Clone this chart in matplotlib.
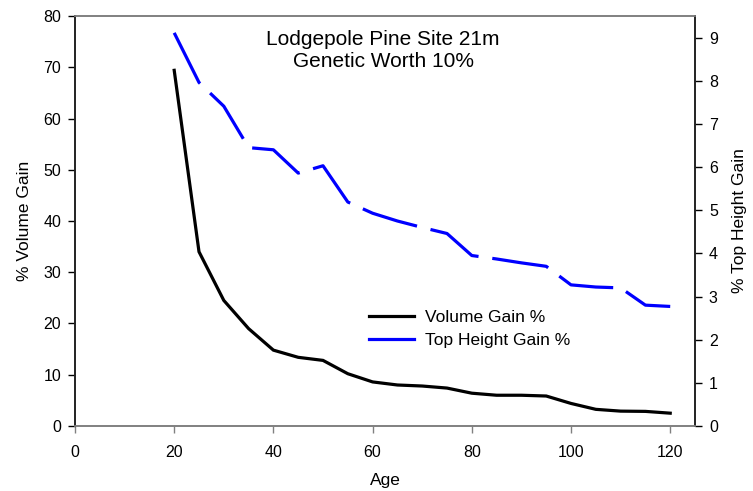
import matplotlib
matplotlib.use("Agg")
import matplotlib.pyplot as plt
from matplotlib.lines import Line2D

plt.rcParams["font.family"] = ["Liberation Sans", "DejaVu Sans"]
plt.rcParams["lines.scale_dashes"] = False

age = [20, 25, 30, 35, 40, 45, 50, 55, 60, 65, 70, 75, 80, 85, 90, 95, 100, 105, 110, 115, 120]
volume_gain = [69.4, 34.0, 24.5, 19.0, 14.8, 13.4, 12.8, 10.2, 8.6, 8.0, 7.8, 7.4, 6.4, 6.0, 6.0, 5.85,
               4.4, 3.25, 2.9, 2.85, 2.5]
height_gain = [9.11, 7.96, 7.41, 6.45, 6.4, 5.86, 6.03, 5.19, 4.93, 4.75, 4.6, 4.46, 3.95, 3.87, 3.78, 3.7,
               3.27, 3.22, 3.2, 2.8, 2.77]

fig = plt.figure(figsize=(7.53, 4.91), dpi=100)
ax = fig.add_axes([0.0996, 0.1324, 0.923 - 0.0996, 0.9674 - 0.1324])
ax2 = ax.twinx()

ax.plot(age, volume_gain, "-", color="black", lw=2.3, solid_joinstyle="miter")
ax2.plot(age, height_gain, color="blue", lw=2.3, linestyle=(0, (41, 10)))

ax.set_xlim(0, 125)
ax.set_ylim(0, 80)
ax2.set_ylim(0, 9.5)
ax.set_xticks(range(0, 121, 20))
ax.set_yticks(range(0, 81, 10))
ax2.set_yticks(range(0, 10))

for a in (ax, ax2):
    a.tick_params(labelsize=11.5, length=5, width=1, direction="out", pad=5)
    for side in ("top", "bottom"):
        a.spines[side].set_color("#808080")
    for side in ("left", "right"):
        a.spines[side].set_color("#222222")
    for s in a.spines.values():
        s.set_linewidth(1.2)
ax.tick_params(axis="x", colors="#808080", labelcolor="black", pad=9)

ax.set_xlabel("Age", fontsize=12.5, labelpad=9)
ax.set_ylabel("% Volume Gain", fontsize=12.5, labelpad=8)
ax2.set_ylabel("% Top Height Gain", fontsize=12.5, labelpad=10)

ax.text(0.497, 0.965, "Lodgepole Pine Site 21m\nGenetic Worth 10%", transform=ax.transAxes,
        ha="center", va="top", fontsize=15, linespacing=1.2)

handles = [Line2D([], [], color="black", lw=2.3),
           Line2D([], [], color="blue", lw=2.3)]
ax.legend(handles, ["Volume Gain %", "Top Height Gain %"], loc="upper left",
          bbox_to_anchor=(0.463, 0.3), frameon=False, fontsize=12.5, handlelength=2.6,
          handletextpad=0.6, labelspacing=0.45, borderaxespad=0)

fig.savefig("out.png", dpi=100)
